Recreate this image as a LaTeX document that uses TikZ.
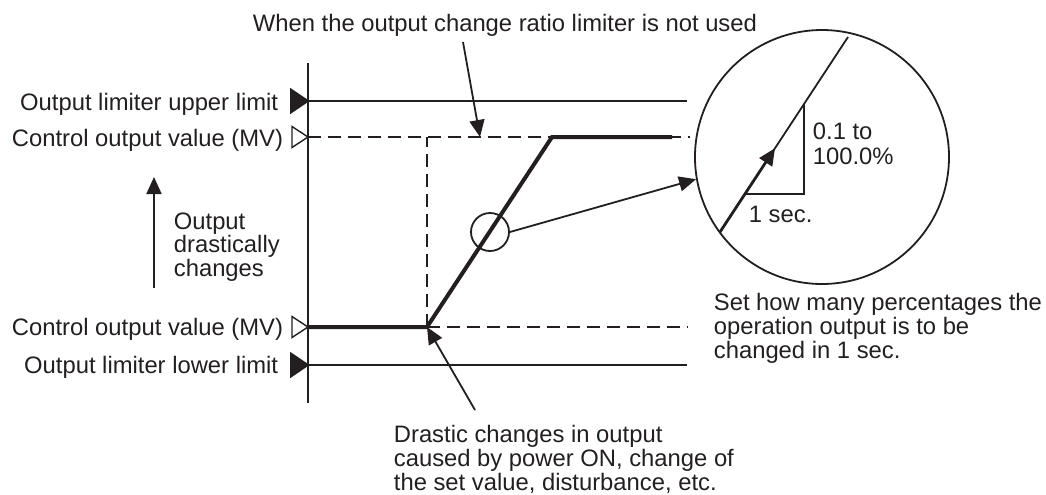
\documentclass[tikz,border=0pt]{standalone}
\usepackage{fontspec}
\setmainfont{Liberation Sans}
\usepackage{xcolor}
\usepackage{tikz}
\usetikzlibrary{arrows.meta,positioning,calc}
\definecolor{chartink}{RGB}{35, 31, 32}

\begin{document}
\begin{tikzpicture}[x=0.5pt, y=-0.5pt, color=chartink, line width=0.9pt, >={Triangle[length=8.5pt, width=7.5pt]},
    every node/.style={inner sep=0pt, font=\fontsize{11.9}{10.5}\selectfont},
    guide/.style={dash pattern=on 6.5pt off 3.5pt},
    mvpath/.style={line width=2pt, line join=miter},
    pointer/.style={->, line width=0.9pt}]
    \useasboundingbox (0,0) rectangle (1046,494);

    \coordinate (axtop) at (308,63);
    \coordinate (axbot) at (308,403);
    \coordinate (ulim) at (308,101);
    \coordinate (umv) at (308,137);
    \coordinate (lmv) at (308,327);
    \coordinate (llim) at (308,365);
    \coordinate (jump) at (427,327);
    \coordinate (knee) at (552,137);

    \draw (axtop) -- (axbot);
    \draw (ulim) -- ++(379,0);
    \draw (llim) -- ++(379,0);
    \draw [guide] (umv) -- ++(382,0);
    \draw [guide] (jump) -- ++(261,0);
    \draw [guide] (jump) -- (jump |- umv);
    \draw [mvpath] (lmv) -- (jump) -- (knee) -- ++(120,0);

    \draw [fill] (ulim) -- ++(-17,-11.5) -- ++(0,23) -- cycle;
    \draw [fill] (llim) -- ++(-17,-11.5) -- ++(0,23) -- cycle;
    \draw [fill=white, line width=0.7pt] (umv) -- ++(-16,-10.5) -- ++(0,21) -- cycle;
    \draw [fill=white, line width=0.7pt] (lmv) -- ++(-16,-10.5) -- ++(0,21) -- cycle;

    \node [anchor=base east] (ulimlabel) at (279,110) {Output limiter upper limit};
    \node [anchor=base east] (umvlabel) at (284,146) {Control output value (MV)};
    \node [anchor=base east] (lmvlabel) at (284,335) {Control output value (MV)};
    \node [anchor=base east] (llimlabel) at (279,373) {Output limiter lower limit};

    \coordinate (risetail) at (154,288);
    \coordinate (risehead) at (154,177);
    \draw [pointer] (risetail) -- (risehead);
    \node [anchor=north west, align=left, font=\fontsize{11.9}{11.7}\selectfont] (riselabel) at (173,212) {Output\\drastically\\changes};

    \node [anchor=base west] (topnote) at (252,31) {When the output change ratio limiter is not used};
    \coordinate (toptail) at (463,42);
    \coordinate (toptip) at (480,137);
    \draw [pointer] (toptail) -- (toptip);

    \node [anchor=north west, align=left, font=\fontsize{11.9}{10.25}\selectfont] (causenote) at (393,424) {Drastic changes in output\\caused by power ON, change of\\the set value, disturbance, etc.};
    \coordinate (causetail) at (475,410);
    \draw [pointer] (causetail) -- (jump);

    \node [circle, draw, minimum size=19pt] (spot) at (490,232) {};
    \node [circle, draw, minimum size=127pt] (lens) at (822,157) {};
    \draw [pointer] (spot.east) -- (lens.190);

    \coordinate (slopelo) at (720,232);
    \coordinate (slopehi) at (848,37);
    \draw (slopelo) -- (slopehi);
    \draw [->, line width=1.4pt] (slopelo) -- ($(slopelo)!0.43!(slopehi)$);
    \draw ($(slopelo)!0.195!(slopehi)$) -| ($(slopelo)!0.656!(slopehi)$);
    \node [anchor=north west, align=left, font=\fontsize{11.9}{12.25}\selectfont] (ratelabel) at (812,122) {0.1 to\\100.0\%};
    \node [anchor=base west] (timelabel) at (748,222) {1 sec.};

    \node [anchor=north west, align=left] (setnote) at (713,292) {Set how many percentages the\\operation output is to be\\changed in 1 sec.};
\end{tikzpicture}
\end{document}
